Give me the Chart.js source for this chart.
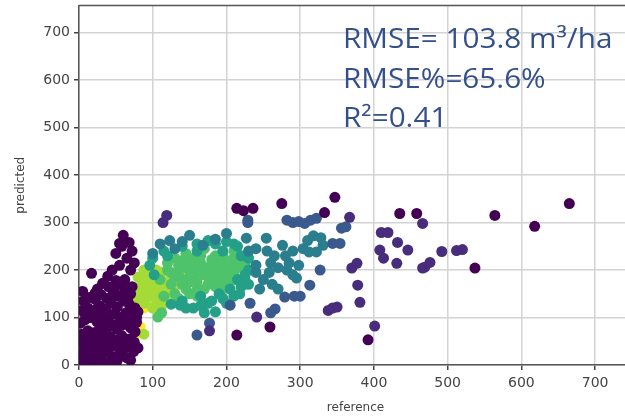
<!DOCTYPE html>
<html>
<head>
<meta charset="utf-8">
<script src="https://cdn.jsdelivr.net/npm/chart.js@4"></script>
<style>
  html, body { margin: 0; padding: 0; background: #fff; overflow: hidden; }
  #wrap { width: 640px; height: 419px; }
</style>
</head>
<body>
<div id="wrap"><canvas id="scatter"></canvas></div>
<script>
// [reference, predicted] pairs, grouped by the point colour seen in the picture
const darkPoints = [
  [2,5],[8,12],[15,3],[22,8],[30,15],[38,5],[45,18],[52,10],[60,20],[5,25],[12,30],[20,22],[28,35],
  [36,28],[44,40],[55,32],[65,38],[3,45],[10,50],[18,42],[26,55],[34,48],[42,60],[50,52],[58,62],
  [68,55],[75,48],[4,65],[12,72],[20,68],[28,78],[36,70],[44,82],[52,75],[60,85],[70,78],[78,90],
  [2,88],[8,95],[16,100],[24,92],[32,105],[40,98],[48,108],[56,100],[64,110],[72,105],[80,112],
  [4,115],[12,120],[20,112],[28,125],[36,118],[44,130],[52,122],[60,135],[68,128],[76,120],[6,135],
  [14,142],[22,138],[30,148],[38,140],[46,150],[54,145],[62,155],[70,150],[25,160],[40,165],
  [58,170],[72,165],[48,85],[65,15],[74,28],[18,18],[35,88],[80,36],[8,108],[5,155],[22,152],
  [48,160],[66,140],[78,100],[76,70],[70,10],[50,3],[28,2],[10,2],[32,172],[14,60],[40,35],
  [60,48],[24,118],[56,88],[66,92],[30,62],
  [17,193],[39,187],[50,178],[62,180],[70,200],[55,210],[65,225],[72,240],[50,235],[58,250],
  [68,258],[60,273],[55,256],[75,215],[45,200],
  [214,330],[223,325],[236,330],[275,340],[347,353],[333,321],[435,319],[458,319],[564,315],
  [618,292],[665,340],[537,204],[392,53],[214,63],[259,80]
];
const indigoPoints = [
  [119,315],[114,300],[367,311],[401,82],[381,132],[378,168],[338,115],[344,120],[350,122],
  [410,279],[419,279],[408,242],[413,225],[432,258],[446,242],[431,214],[466,298],[469,206],
  [476,216],[466,204],[492,239],[512,241],[520,243],[377,214],[370,204],[241,101],[177,72]
];
const bluePoints = [
  [282,305],[290,300],[298,302],[306,298],[314,305],[322,309],[229,305],[229,300],
  [356,288],[362,291],[344,256],[354,256],[327,200],[313,168],[279,143],[292,145],
  [232,130],[300,145],[177,88],[160,63],[205,126],[260,110],[266,118]
];
const tealPoints = [
  [304,245],[310,262],[318,272],[328,268],[331,252],[322,238],[312,238],
  [123,262],[150,273],[168,252],[200,277],[227,267],[254,267],[276,252],[282,200],[290,190],
  [298,210],[285,215],[295,183],[250,180],[262,170],[270,160],[258,195],[240,210],[245,160],
  [265,230],[280,230],[290,240],[255,240],[240,245],[130,245],[110,255],[140,260],[230,240],
  [260,215],[270,205],[240,195],[185,265],[100,235]
];
const seaPoints = [
  [155,120],[137,126],[230,170],[218,150],[205,160],[210,255],[185,255],[96,210],[102,190],
  [160,240],[190,150],[175,130],[165,145],[140,135],[220,230],[215,180],[225,190],[195,240],
  [100,225],[115,240],[125,128],[145,120],[165,125],[180,135],[195,140],[210,145],[220,165],
  [225,180],[230,200],[230,225],[215,250],[200,260],[175,262],[160,255],[140,250],[120,230],
  [200,130],[185,112],[170,110]
];
const greenPoints = [
  [120,200],[135,210],[150,220],[165,230],[180,222],[195,215],[210,225],[200,200],[185,195],
  [170,205],[155,195],[140,180],[160,175],[175,185],[190,180],[205,190],[215,205],[145,160],
  [125,170],[110,180],[130,150],[115,145],[150,150],[170,160],[185,165],[200,175],[220,210],
  [160,210],[107,101],[112,110],[150,200],[178,208],[130,225],[145,235],[195,235],[170,245],
  [210,240],[225,215],[120,215],[125,195],[135,190],[145,205],[150,185],[160,195],[165,215],
  [175,200],[180,175],[190,205],[195,190],[200,220],[205,210],[210,195],[140,220],[155,225],
  [185,230],[190,220],[170,190],[160,160],[175,170],[140,170],[150,175],[130,185],[195,160],
  [210,180],[135,140],[160,145]
];
const limePoints = [
  [85,170],[92,180],[100,190],[95,160],[105,165],[115,175],[100,145],[90,140],[110,155],
  [120,160],[85,150],[125,185],[105,200],[88,200],[135,170],[140,195],[88,65],[80,140],
  [80,160],[80,185],[90,130],[95,150],[98,175],[105,135],[108,180],[112,195],[118,140],
  [122,150],[128,165],[92,195],[100,120],[112,125]
];
const yellowPoints = [[76,130],[85,122],[83,80],[76,63],[80,75],[88,120]];

const xTicks = [0, 100, 200, 300, 400, 500, 600, 700];
const yTicks = [0, 100, 200, 300, 400, 500, 600, 700];
const statLines = ['RMSE= 103.8 m\u00b3/ha', 'RMSE%=65.6%', 'R\u00b2=0.41'];

const groups = [
  { pts: darkPoints, color: '#440154' },
  { pts: indigoPoints, color: '#472d7b' },
  { pts: bluePoints, color: '#3a5a8e' },
  { pts: tealPoints, color: '#2b7e8e' },
  { pts: seaPoints, color: '#23a087' },
  { pts: greenPoints, color: '#4ec36b' },
  { pts: limePoints, color: '#a5db36' },
  { pts: yellowPoints, color: '#fde725' }
];

const datasets = groups.map(g => ({
  data: g.pts.map(p => ({ x: p[0], y: p[1] })),
  backgroundColor: g.color,
  borderWidth: 0,
  pointRadius: 5.5,
  pointHoverRadius: 5.5
}));

const overlay = {
  id: 'overlay',
  afterDraw(chart) {
    const ctx = chart.ctx;
    const a = chart.chartArea;
    ctx.save();
    // top spine
    ctx.strokeStyle = '#555';
    ctx.lineWidth = 1.5;
    ctx.beginPath();
    ctx.moveTo(a.left, a.top);
    ctx.lineTo(a.right, a.top);
    ctx.stroke();
    // statistics text, slightly stretched like the original
    ctx.fillStyle = '#34508a';
    ctx.font = '27px "Open Sans"';
    ctx.textBaseline = 'alphabetic';
    statLines.forEach((t, i) => {
      ctx.save();
      ctx.translate(343, 48 + i * 39.5);
      ctx.scale(1.1, 1);
      ctx.fillText(t, 0, 0);
      ctx.restore();
    });
    ctx.restore();
  }
};

new Chart(document.getElementById('scatter'), {
  type: 'scatter',
  data: { datasets },
  plugins: [overlay],
  options: {
    responsive: true,
    maintainAspectRatio: false,
    animation: false,
    layout: { padding: { top: 5, right: 8, left: 0, bottom: 0 } },
    plugins: { legend: { display: false }, tooltip: { enabled: false } },
    scales: {
      x: {
        type: 'linear',
        min: 0,
        max: 750,
        afterBuildTicks: s => { s.ticks = xTicks.map(v => ({ value: v })); },
        afterFit: s => { s.height = 54; s.paddingLeft = 0; s.paddingRight = 0; },
        grid: { color: '#d3d3d3', lineWidth: 1.5, tickColor: '#444', tickLength: 5 },
        border: { color: '#555', width: 1.5 },
        ticks: { color: '#444', font: { family: 'DejaVu Sans', size: 14 }, padding: 5, maxRotation: 0 },
        title: { display: true, text: 'reference', color: '#444', font: { family: 'DejaVu Sans', size: 12 }, padding: { top: 0 } }
      },
      y: {
        type: 'linear',
        min: 0,
        max: 757,
        afterBuildTicks: s => { s.ticks = yTicks.map(v => ({ value: v })); },
        afterFit: s => { s.width = 79; s.paddingTop = 0; s.paddingBottom = 0; },
        grid: { color: '#d3d3d3', lineWidth: 1.5, tickColor: '#444', tickLength: 5 },
        border: { color: '#555', width: 1.5 },
        ticks: { color: '#444', font: { family: 'DejaVu Sans', size: 14 }, padding: 4 },
        title: { display: true, text: 'predicted', color: '#444', font: { family: 'DejaVu Sans', size: 12 }, padding: { top: 14, bottom: 0 } }
      }
    }
  }
});
</script>
</body>
</html>
